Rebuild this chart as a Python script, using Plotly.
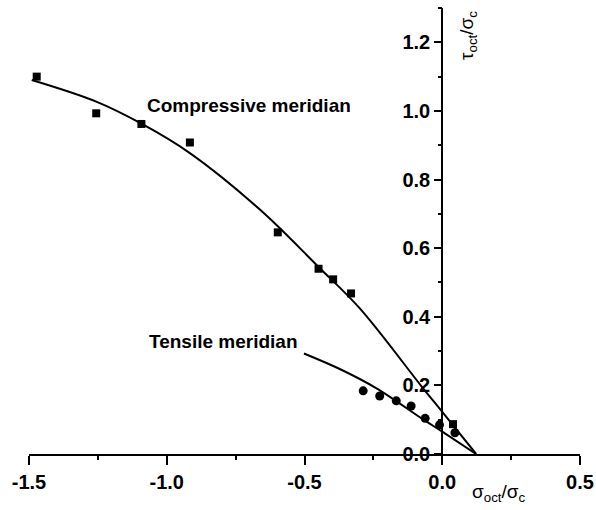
import plotly.graph_objects as go

comp_x = [-1.472, -1.256, -1.092, -0.916, -0.597, -0.449, -0.396, -0.331, 0.039]
comp_y = [1.100, 0.993, 0.962, 0.908, 0.646, 0.540, 0.509, 0.468, 0.087]
tens_x = [-0.287, -0.227, -0.167, -0.113, -0.062, -0.010, 0.046]
tens_y = [0.184, 0.169, 0.155, 0.140, 0.104, 0.085, 0.062]

# Fitted meridian curves
comp_fit_x = [-1.49, -1.256, -1.09, -0.916, -0.66, -0.45, -0.30, -0.074, 0.0, 0.123]
comp_fit_y = [1.09, 1.027, 0.962, 0.877, 0.711, 0.546, 0.425, 0.196, 0.123, 0.0]
tens_fit_x = [-0.502, -0.37, -0.24, -0.068, 0.0, 0.123]
tens_fit_y = [0.293, 0.247, 0.192, 0.100, 0.065, 0.0]

# Tick labels
x_tickvals = [-1.5, -1.0, -0.5, 0.0, 0.5]
x_ticktext = ["-1.5", "-1.0", "-0.5", "0.0", "0.5"]
x_minor = [-1.25, -0.75, -0.25, 0.25]
y_tickvals = [0.0, 0.2, 0.4, 0.6, 0.8, 1.0, 1.2]
y_ticktext = ["0.0", "0.2", "0.4", "0.6", "0.8", "1.0", "1.2"]
y_minor = [0.1, 0.3, 0.5, 0.7, 0.9, 1.1, 1.3]

X_RANGE = [-1.5, 0.5]
Y_RANGE = [0, 1.3]
FONT = "Liberation Sans, Arial, sans-serif"
TC = "black"

fig = go.Figure()
fig.add_trace(go.Scatter(x=comp_fit_x, y=comp_fit_y, mode="lines",
                         line=dict(color="black", width=2, shape="spline", smoothing=1.0),
                         showlegend=False, hoverinfo="skip"))
fig.add_trace(go.Scatter(x=tens_fit_x, y=tens_fit_y, mode="lines",
                         line=dict(color="black", width=2, shape="spline", smoothing=1.0),
                         showlegend=False, hoverinfo="skip"))
fig.add_trace(go.Scatter(x=comp_x, y=comp_y, mode="markers",
                         marker=dict(symbol="square", size=8, color="black"),
                         showlegend=False))
fig.add_trace(go.Scatter(x=tens_x, y=tens_y, mode="markers",
                         marker=dict(symbol="circle", size=9, color="black"),
                         showlegend=False))
# invisible trace holding the minor-tick axes
fig.add_trace(go.Scatter(x=X_RANGE, y=Y_RANGE, mode="markers", xaxis="x2", yaxis="y2",
                         marker=dict(opacity=0), showlegend=False, hoverinfo="skip"))

tickfont = dict(family=FONT, size=20, weight="bold", color="black")
fig.update_layout(
    width=596, height=510,
    margin=dict(l=29, r=16, t=8, b=56),
    paper_bgcolor="white", plot_bgcolor="white",
    font=dict(family=FONT, color="black"),
    xaxis=dict(
        range=X_RANGE, tickmode="array", tickvals=x_tickvals, ticktext=x_ticktext,
        automargin=False,
        showline=True, linecolor="black", linewidth=2,
        ticks="outside", ticklen=9, tickwidth=2, tickcolor=TC,
        showgrid=False, zeroline=False, tickfont=tickfont,
    ),
    xaxis2=dict(
        range=X_RANGE, overlaying="x", anchor="y", side="bottom",
        tickmode="array", tickvals=x_minor, showticklabels=False, automargin=False,
        ticks="outside", ticklen=5, tickwidth=2, tickcolor=TC,
        showline=False, showgrid=False, zeroline=False,
    ),
    yaxis=dict(
        range=Y_RANGE, tickmode="array", tickvals=y_tickvals, ticktext=y_ticktext,
        automargin=False,
        anchor="free", position=0.75,
        showline=True, linecolor="black", linewidth=2,
        ticks="outside", ticklen=7, tickwidth=2, tickcolor=TC,
        showgrid=False, zeroline=False, tickfont=tickfont,
    ),
    yaxis2=dict(
        range=Y_RANGE, overlaying="y", anchor="free", position=0.75, side="left",
        tickmode="array", tickvals=y_minor, showticklabels=False, automargin=False,
        ticks="outside", ticklen=4, tickwidth=2, tickcolor=TC,
        showline=False, showgrid=False, zeroline=False,
    ),
    annotations=[
        dict(text="<b>Compressive meridian</b>", x=249, y=106, showarrow=False,
             font=dict(family=FONT, size=19, color="black")),
        dict(text="<b>Tensile meridian</b>", x=223, y=341, showarrow=False,
             font=dict(family=FONT, size=19, color="black")),
        dict(text="σ<sub>oct</sub>/σ<sub>c</sub>", x=499, y=493, showarrow=False,
             font=dict(family=FONT, size=19, color="black")),
        dict(text="τ<sub>oct</sub>/σ<sub>c</sub>", x=468, y=36, showarrow=False, textangle=-90,
             font=dict(family=FONT, size=19, color="black")),
    ],
)

# annotation positions given in pixels -> paper coordinates
W, H = 596, 510
l, r, t, b = 29, 16, 8, 56
pw, ph = W - l - r, H - t - b
for a in fig.layout.annotations:
    px, py = a.x, a.y
    a.xref = "paper"
    a.yref = "paper"
    a.x = (px - l) / pw
    a.y = (H - b - py) / ph
    a.xanchor = "center"
    a.yanchor = "middle"

fig.write_html("out.html")
